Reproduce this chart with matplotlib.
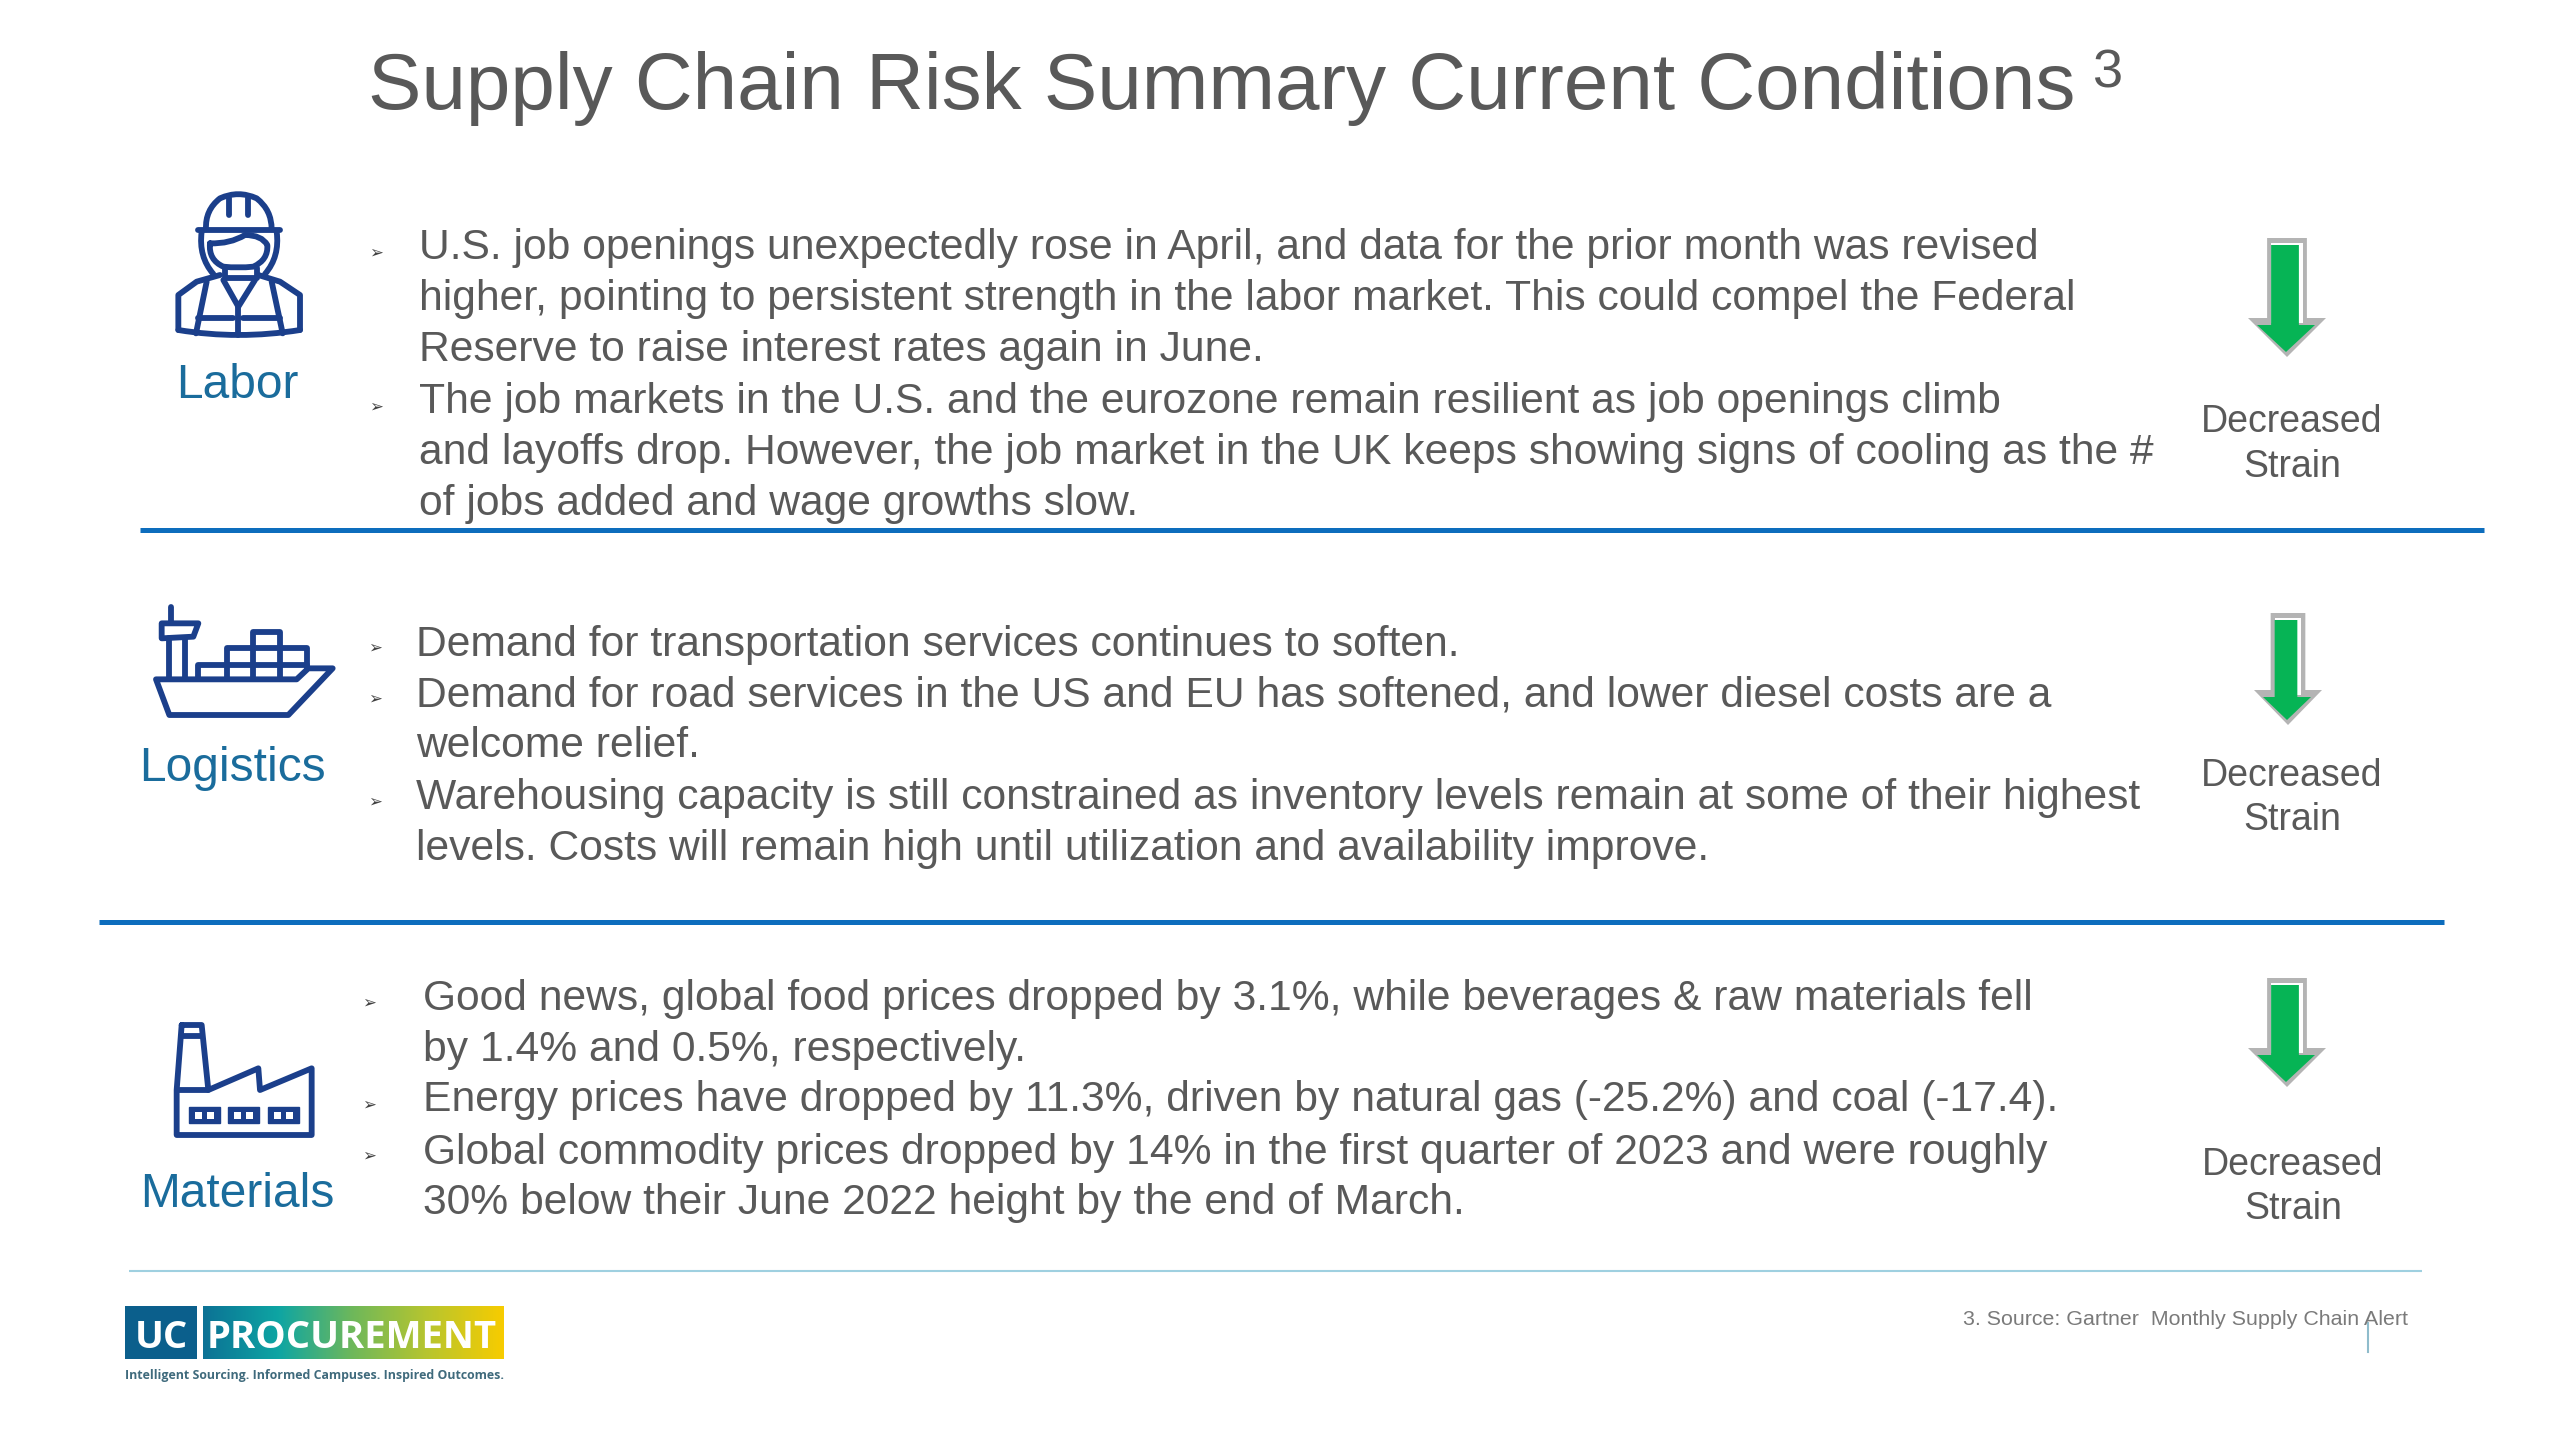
import matplotlib
matplotlib.use("Agg")
import matplotlib.pyplot as plt
import numpy as np
from matplotlib.path import Path
from matplotlib.patches import PathPatch, Polygon, Rectangle
from matplotlib.colors import LinearSegmentedColormap

plt.rcParams['font.family'] = ['Liberation Sans', 'DejaVu Sans']

TITLE = "Supply Chain Risk Summary Current Conditions"
CATEGORIES = ["Labor", "Logistics", "Materials"]
STATUS = ["Decreased", "Strain"]
SOURCE = "3. Source: Gartner  Monthly Supply Chain Alert"
TAGLINE = "Intelligent Sourcing. Informed Campuses. Inspired Outcomes."

LABOR_LINES = [
    "U.S. job openings unexpectedly rose in April, and data for the prior month was revised",
    "higher, pointing to persistent strength in the labor market. This could compel the Federal",
    "Reserve to raise interest rates again in June.",
    "The job markets in the U.S. and the eurozone remain resilient as job openings climb",
    "and layoffs drop. However, the job market in the UK keeps showing signs of cooling as the #",
    "of jobs added and wage growths slow.",
]
LOGISTICS_LINES = [
    "Demand for transportation services continues to soften.",
    "Demand for road services in the US and EU has softened, and lower diesel costs are a",
    "welcome relief.",
    "Warehousing capacity is still constrained as inventory levels remain at some of their highest",
    "levels. Costs will remain high until utilization and availability improve.",
]
MATERIALS_LINES = [
    "Good news, global food prices dropped by 3.1%, while beverages & raw materials fell",
    "by 1.4% and 0.5%, respectively.",
    "Energy prices have dropped by 11.3%, driven by natural gas (-25.2%) and coal (-17.4).",
    "Global commodity prices dropped by 14% in the first quarter of 2023 and were roughly",
    "30% below their June 2022 height by the end of March.",
]

GREY = "#595959"
LABEL_BLUE = "#1a6c9c"
ICON_BLUE = "#1b3f8b"
RULE_BLUE = "#0d6dbd"
BODY_SIZE = 30.7


def stroke(ax, pts, ox, oy, curve=False, closed=False, lw=4.2):
    # Points are in zoom-crop units (3x), offset to page pixels.
    pts = [(ox + x / 3, oy + y / 3) for x, y in pts]
    codes = [Path.MOVETO] + [Path.CURVE3 if curve else Path.LINETO] * (len(pts) - 1)
    if closed:
        pts.append(pts[0])
        codes.append(Path.CLOSEPOLY)
    ax.add_patch(PathPatch(Path(pts, codes), fill=False, edgecolor=ICON_BLUE, lw=lw,
                           capstyle='round', joinstyle='round'))


def draw_worker(ax, ox, oy):
    stroke(ax, [(228, 178), (225, 120), (270, 85), (325, 60), (380, 85), (425, 120), (425, 178)], ox, oy, curve=True)
    stroke(ax, [(205, 180), (450, 180)], ox, oy)
    stroke(ax, [(297, 85), (297, 135)], ox, oy)
    stroke(ax, [(355, 85), (355, 135)], ox, oy)
    stroke(ax, [(215, 185), (205, 260), (250, 312)], ox, oy, curve=True)
    stroke(ax, [(440, 185), (450, 260), (405, 312)], ox, oy, curve=True)
    stroke(ax, [(240, 220), (300, 222), (345, 195), (395, 195), (412, 225), (415, 270), (370, 290),
                (325, 295), (280, 290), (235, 270), (240, 220)], ox, oy, curve=True)
    stroke(ax, [(285, 295), (285, 325), (380, 325), (380, 295)], ox, oy)
    stroke(ax, [(270, 315), (200, 335), (145, 375), (145, 480)], ox, oy)
    stroke(ax, [(385, 315), (450, 335), (510, 375), (510, 480)], ox, oy)
    stroke(ax, [(145, 480), (325, 510), (510, 480)], ox, oy, curve=True)
    stroke(ax, [(230, 335), (198, 490)], ox, oy)
    stroke(ax, [(425, 335), (458, 490)], ox, oy)
    stroke(ax, [(280, 330), (325, 410), (375, 330)], ox, oy)
    stroke(ax, [(325, 410), (325, 495)], ox, oy)
    stroke(ax, [(205, 445), (310, 445)], ox, oy)
    stroke(ax, [(340, 445), (450, 445)], ox, oy)


def draw_ship(ax, ox, oy):
    stroke(ax, [(78, 268), (500, 268), (535, 235), (608, 235), (475, 375), (118, 375)], ox, oy, closed=True)
    stroke(ax, [(122, 50), (122, 95)], ox, oy)
    stroke(ax, [(95, 100), (205, 100), (190, 140), (95, 145)], ox, oy, closed=True)
    stroke(ax, [(118, 145), (118, 268)], ox, oy)
    stroke(ax, [(165, 145), (165, 268)], ox, oy)
    stroke(ax, [(205, 265), (205, 225), (530, 225)], ox, oy)
    stroke(ax, [(290, 265), (290, 175), (530, 175), (530, 235)], ox, oy)
    stroke(ax, [(370, 265), (370, 125), (450, 125), (450, 265)], ox, oy)


def draw_factory(ax, ox, oy):
    stroke(ax, [(155, 45), (215, 45), (235, 240), (385, 175), (390, 240), (545, 175), (545, 375),
                (140, 375), (140, 240), (155, 45)], ox, oy)
    stroke(ax, [(160, 78), (212, 78)], ox, oy)
    stroke(ax, [(140, 240), (235, 240)], ox, oy)
    for left in [178, 295, 415]:
        ax.add_patch(Rectangle((ox + left / 3, oy + 292 / 3), 31, 16, facecolor=ICON_BLUE, edgecolor=ICON_BLUE))
        for sq in [18, 52]:
            ax.add_patch(Rectangle((ox + (left + sq) / 3, oy + 306 / 3), 7, 7, facecolor='white', edgecolor='none'))


def draw_arrow(ax, cx, top, shoulder, tip, half_head):
    # Grey bevel, white highlight, green face.
    half_shaft = half_head * 0.51
    outer = [(cx - half_shaft, top), (cx + half_shaft, top), (cx + half_shaft, shoulder),
             (cx + half_head, shoulder), (cx, tip), (cx - half_head, shoulder), (cx - half_shaft, shoulder)]
    ax.add_patch(Polygon(outer, closed=True, facecolor='#b4b4b4', edgecolor='none'))
    ax.add_patch(Rectangle((cx - half_shaft + 4, top + 5), 2 * half_shaft - 8, shoulder - top, facecolor='white', edgecolor='none'))
    inner = [(cx - half_shaft + 4, top + 7), (cx + half_shaft - 8, top + 7), (cx + half_shaft - 8, shoulder + 7),
             (cx + half_head - 11, shoulder + 7), (cx - 1, tip - 5), (cx - half_head + 9, shoulder + 7),
             (cx - half_shaft + 4, shoulder + 7)]
    ax.add_patch(Polygon(inner, closed=True, facecolor='#06b455', edgecolor='none'))


def draw_block(ax, lines, x, baselines, bullet_x, bullet_ys):
    for line, y in zip(lines, baselines):
        ax.text(x, y, line, fontsize=BODY_SIZE, color=GREY, va='baseline', ha='left')
    for y in bullet_ys:
        ax.text(bullet_x, y, "\u27a2", fontsize=12, color='#404040', va='center', ha='center', family='DejaVu Sans')


def draw_logo(ax):
    ramp = LinearSegmentedColormap.from_list("logo", ["#0c7295", "#0ea5a3", "#6fb85a", "#b8c52e", "#f7cc00"])
    ax.add_patch(Rectangle((125, 1306), 72, 53, facecolor='#0b5f8c', edgecolor='none'))
    ax.imshow(np.linspace(0, 1, 256).reshape(1, -1), cmap=ramp, extent=(203, 504, 1359, 1306), aspect='auto', zorder=1)
    ax.text(161, 1333, "UC", color='white', fontsize=27.5, family='Open Sans', weight='bold', ha='center', va='center_baseline', zorder=2)
    ax.text(352, 1333, "PROCUREMENT", color='white', fontsize=27.5, family='Open Sans', weight='bold', ha='center', va='center_baseline', zorder=2)
    ax.text(125, 1375, TAGLINE, color='#3f6a7c', fontsize=8.9, family='Open Sans', weight='bold', ha='left', va='center')


fig = plt.figure(figsize=(25.6, 14.4), dpi=100)
ax = fig.add_axes([0, 0, 1, 1])

ax.text(368, 109, TITLE, fontsize=57.6, color=GREY, va='baseline', ha='left')
ax.text(2093, 87, "3", fontsize=39, color=GREY, va='baseline', ha='left')

draw_block(ax, LABOR_LINES, 419, [259, 310, 361, 413, 464, 515], 376, [253, 407])
draw_block(ax, LOGISTICS_LINES, 416, [656, 706, 757, 809, 860], 375, [648, 699, 802])
draw_block(ax, MATERIALS_LINES, 423, [1010, 1061, 1111, 1164, 1214], 369, [1003, 1105, 1156])

draw_worker(ax, 130, 170)
draw_ship(ax, 130, 590)
draw_factory(ax, 130, 1010)
for name, x, y in zip(CATEGORIES, [237, 232, 237], [398, 781, 1207]):
    ax.text(x, y, name, fontsize=34.5, color=LABEL_BLUE, ha='center', va='baseline')

draw_arrow(ax, 2287, 238, 318, 357, 39)
draw_arrow(ax, 2288, 613, 690, 725, 34)
draw_arrow(ax, 2287, 978, 1048, 1087, 39)
for x, y1, y2 in zip([2292, 2292, 2293], [432, 786, 1175], [477, 830, 1219]):
    ax.text(x, y1, STATUS[0], fontsize=27, color=GREY, ha='center', va='baseline')
    ax.text(x, y2, STATUS[1], fontsize=27, color=GREY, ha='center', va='baseline')

ax.plot([140, 2484], [530, 530], color=RULE_BLUE, lw=3.6, solid_capstyle='butt')
ax.plot([99, 2444], [922, 922], color=RULE_BLUE, lw=3.6, solid_capstyle='butt')
ax.plot([129, 2422], [1271, 1271], color='#9fd0e0', lw=1.5, solid_capstyle='butt')
ax.plot([2368, 2368], [1323, 1352], color='#8fbccc', lw=1.5)

ax.text(1963, 1325, SOURCE, fontsize=15.4, color='#7a7a7a', va='baseline', ha='left')
draw_logo(ax)

ax.set_xlim(0, 2560)
ax.set_ylim(1440, 0)
ax.axis('off')
fig.savefig("out.png", dpi=100, facecolor='white')
